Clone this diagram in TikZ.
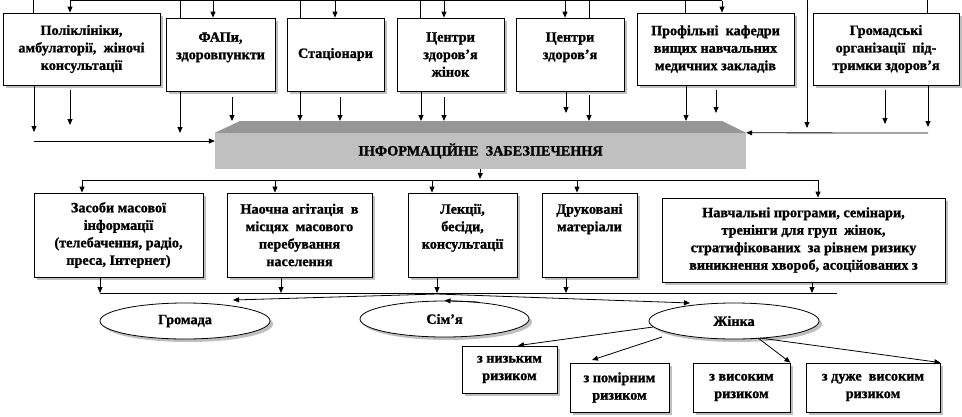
\documentclass[tikz,border=0pt]{standalone}
\usepackage{fontspec}
\setmainfont{Liberation Serif}[BoldFeatures={FakeBold=1.2}]
\usetikzlibrary{arrows.meta,shapes.geometric,shadows}
\definecolor{topg}{HTML}{969696}
\definecolor{frontg}{HTML}{C0C0C0}
\begin{document}
\begin{tikzpicture}[x=1pt,y=-1pt,
  ln/.style={line width=0.8pt},
  arr/.style={ln,-{Triangle[length=6pt,width=5pt]}},
  txt/.style={font=\bfseries\fontsize{14.2}{17.5}\selectfont},
  box/.style={txt,draw,fill=white,line width=0.8pt,align=center,inner sep=1pt,
     drop shadow={shadow xshift=3pt,shadow yshift=-3pt,opacity=0.5}},
  oval/.style={box,ellipse,inner sep=0pt}]
\useasboundingbox (0,0) rectangle (962,416);

% top row
\node[box,minimum width=157pt,minimum height=72pt] (t1) at (81.5,49) {Поліклініки,\\амбулаторії,\ \ жіночі\\консультації};
\node[box,minimum width=109pt,minimum height=73pt] (t2) at (220.5,54.5) {ФАПи,\\здоровпункти\\~};
\node[box,minimum width=97pt,minimum height=73pt] (t3) at (335.5,54.5) {Стаціонари};
\node[box,minimum width=107pt,minimum height=73pt] (t4) at (450.5,54.5) {Центри\\здоров’я\\жінок};
\node[box,minimum width=108pt,minimum height=73pt] (t5) at (570,54.5) {Центри\\здоров’я\\~};
\node[box,minimum width=157pt,minimum height=72pt] (t6) at (715.5,49) {Профільні\ \ кафедри\\вищих навчальних\\медичних закладів};
\node[box,minimum width=146pt,minimum height=72pt] (t7) at (886,49) {Громадські\\організації\ \ під-\\тримки здоров’я};

% information box
\node[txt,fill=frontg,minimum width=531pt,minimum height=36pt,inner sep=0pt] (info) at (480.5,151) {ІНФОРМАЦІЙНЕ\ \ ЗАБЕЗПЕЧЕННЯ};
\fill[topg] (info.north west) -- (240,121) -- (722,121) -- (info.north east) -- cycle;

% middle row
\node[box,minimum width=169pt,minimum height=84pt] (m1) at (118.5,235) {Засоби масової\\інформації\\(телебачення, радіо,\\преса, Інтернет)};
\node[box,minimum width=145pt,minimum height=84pt] (m2) at (299.5,235) {Наочна агітація\ \ в\\місцях\ \ масового\\перебування\\населення};
\node[box,minimum width=109pt,minimum height=84pt] (m3) at (462.5,235) {Лекції,\\бесіди,\\консультації\\~};
\node[box,minimum width=95pt,minimum height=84pt] (m4) at (589.5,235) {Друковані\\матеріали\\~\\~};
\node[box,minimum width=283pt,minimum height=84pt] (m5) at (803.5,240) {Навчальні програми, семінари,\\тренінги для груп\ \ жінок,\\стратифікованих\ \ за рівнем ризику\\виникнення хвороб, асоційованих з};

% ellipses
\node[oval,minimum width=170pt,minimum height=36pt] (e1) at (185,321) {Громада};
\node[oval,minimum width=169pt,minimum height=36pt] (e2) at (444.5,319) {Сім’я};
\node[oval,minimum width=170pt,minimum height=36pt] (e3) at (734,321) {Жінка};

% risk boxes
\node[box,minimum width=95pt,minimum height=47pt] (r1) at (509.5,369.5) {з низьким\\ризиком};
\node[box,minimum width=99pt,minimum height=49pt] (r2) at (619.5,387.5) {з помірним\\ризиком};
\node[box,minimum width=97pt,minimum height=49pt] (r3) at (741.5,387.5) {з високим\\ризиком};
\node[box,minimum width=134pt,minimum height=49pt] (r4) at (873,387.5) {з дуже\ \ високим\\ризиком};

% top connectors
\coordinate (tl) at (70,0.5);
\coordinate (tr) at (722,0.5);
\draw[ln] (tl) -- (tr);
\draw[arr] (tl) -- (t1.north -| tl);
\draw[arr] (213,0.5) -- (t2.north -| 213,0);
\draw[arr] (335,0.5) -- (t3.north -| 335,0);
\draw[arr] (444,0.5) -- (t4.north -| 444,0);
\draw[arr] (565,0.5) -- (t5.north -| 565,0);
\draw[arr] (tr) -- (t6.north -| tr);
\draw[ln] (t1.north -| 33,0) -- (33,-2);
\draw[ln] (t2.north -| 180,0) -- (180,0);
\draw[ln] (t3.north -| 300,0) -- (300,0);
\draw[ln] (t4.north -| 420,0) -- (420,0);
\draw[ln] (t5.north -| 589,0) -- (589,0);
\draw[ln] (t6.north -| 685,0) -- (685,0);
\draw[ln] (t7.north -| 927,0) -- (927,-2);
\draw[arr] (807,-2) -- (807,128);

% to information box
\coordinate (itop) at (480,121);
\draw[arr] (t1.south -| 34,0) -- (34,132);
\draw[arr] (70,90) -- (70,125);
\coordinate (hl) at (34,141);
\draw[arr] (hl) -- (hl -| info.west);
\draw[arr] (t2.south -| 180,0) -- (180,133);
\draw[arr] (232,97) -- (itop -| 232,0);
\draw[arr] (t3.south -| 300,0) -- (itop -| 300,0);
\draw[arr] (340,97) -- (itop -| 340,0);
\draw[arr] (t4.south -| 421,0) -- (itop -| 421,0);
\draw[arr] (444,97) -- (itop -| 444,0);
\draw[arr] (t5.south -| 566,0) -- (566,113);
\draw[arr] (589,95) -- (itop -| 589,0);
\draw[arr] (t6.south -| 686,0) -- (itop -| 686,0);
\draw[arr] (716,90) -- (716,113);
\draw[arr] (885,90) -- (885,124);
\draw[arr] (t7.south -| 928,0) -- (928,127);
\coordinate (hr) at (928,133);
\draw[arr] (hr) -- (info.north east);

% from information box
\draw[arr] (info.south) -- (480,179);
\coordinate (ml) at (82,180);
\coordinate (mr) at (818,180);
\draw[ln] (ml) -- (mr);
\draw[arr] (ml) -- (m1.north -| ml);
\draw[arr] (275,180) -- (m2.north -| 275,0);
\draw[arr] (432,180) -- (m3.north -| 432,0);
\draw[arr] (577,180) -- (m4.north -| 577,0);
\draw[arr] (mr) -- (m5.north -| mr);

% to the bottom line
\coordinate (bl) at (100,293);
\coordinate (br) at (837,293);
\draw[ln] (bl) -- (br);
\draw[arr] (m1.south -| bl) -- (bl);
\draw[arr] (m2.south -| 281,0) -- (281,293);
\draw[arr] (m3.south -| 437,0) -- (437,293);
\draw[arr] (m4.south -| 566,0) -- (566,293);
\draw[arr] (m5.south -| 812,0) -- (812,293);

% to ellipses
\coordinate (hub) at (437,294);
\draw[arr] (hub) -- (233,300);
\draw[arr] (hub) -- (690,303);
\draw[arr] (478,302) -- (e2.north);

% from Жінка
\coordinate (w1) at (653,327);
\coordinate (w2) at (662,337);
\coordinate (w3) at (758,338);
\coordinate (w4) at (760,338);
\draw[arr] (w1) -- (r1.north -| 518,0);
\draw[arr] (w2) -- (592,360);
\draw[arr] (w3) -- (r3.north east);
\draw[arr] (w4) -- (r4.north east);
\end{tikzpicture}
\end{document}
